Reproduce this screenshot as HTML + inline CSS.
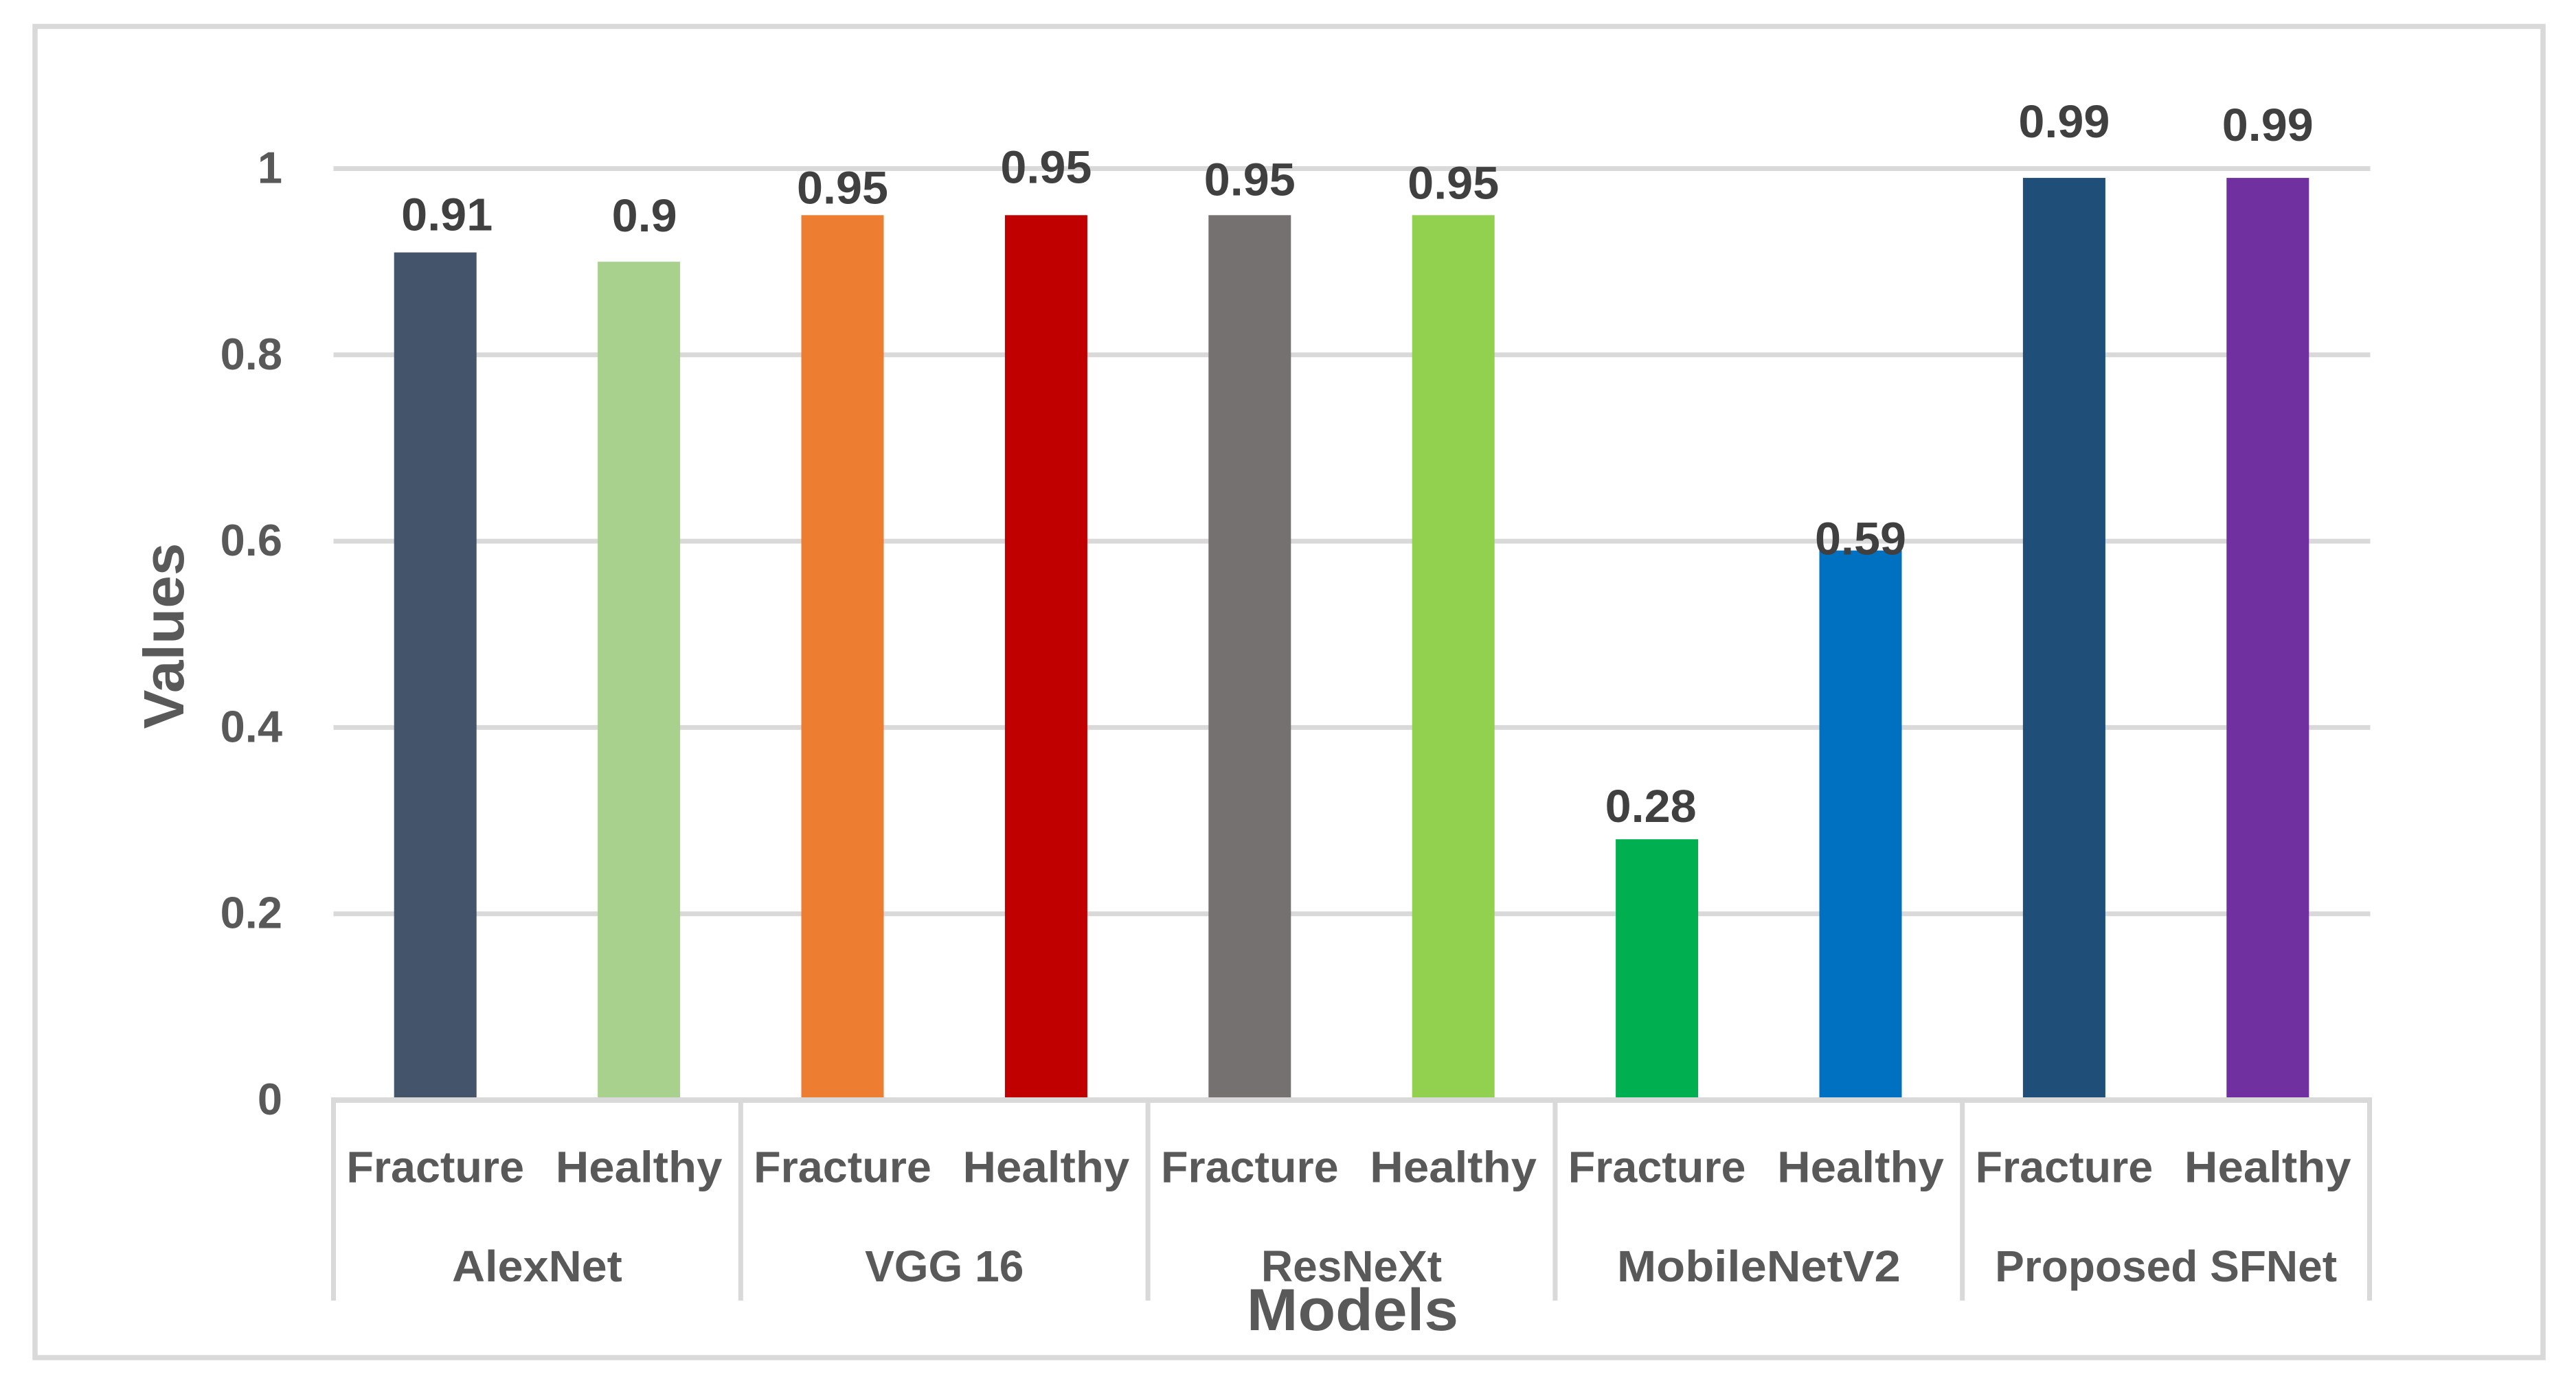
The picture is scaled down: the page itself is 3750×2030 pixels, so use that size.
<!DOCTYPE html>
<html lang="en">
<head>
<meta charset="utf-8">
<title>Model values by class</title>
<style>
html,body{margin:0;padding:0;background:#fff;}
svg{display:block;}
text{font-family:"Liberation Sans",sans-serif;font-weight:700;}
.axis-label{font-size:64px;fill:#595959;}
.y-label{font-size:65px;fill:#595959;}
.value-label{font-size:67px;fill:#404040;}
.axis-title{font-size:86px;fill:#595959;}
</style>
</head>
<body>
<svg id="chart" xmlns="http://www.w3.org/2000/svg" width="3750" height="2030" viewBox="0 0 3750 2030">
  <rect x="0" y="0" width="3750" height="2030" fill="#ffffff"/>
  <rect x="51" y="38.5" width="3651" height="1938.5" fill="#ffffff" stroke="#d9d9d9" stroke-width="7.5"/>
  <g id="grid"></g>
  <g id="bars"></g>
  <g id="xaxis"></g>
  <g id="yaxis"></g>
  <g id="values"></g>
  <text id="ytitle" class="axis-title" text-anchor="middle" transform="translate(267,926) rotate(-90)" style="font-size:83px">Values</text>
  <text id="xtitle" class="axis-title" text-anchor="middle" x="1969" y="1937">Models</text>
</svg>
<script>
const models = ["AlexNet", "VGG 16", "ResNeXt", "MobileNetV2", "Proposed SFNet"];
const classes = ["Fracture", "Healthy"];
const fractureValues = [0.91, 0.95, 0.95, 0.28, 0.99];
const healthyValues = [0.9, 0.95, 0.95, 0.59, 0.99];
const yTickLabels = ["0", "0.2", "0.4", "0.6", "0.8", "1"];
const barColors = ["#44546a", "#a9d18e", "#ed7d31", "#c00000", "#767171", "#92d050", "#00b050", "#0070c0", "#1f4e79", "#7030a0"];
const labelNudgeX = [17, 8, 0, 0, 0, 0, -9, 0, 0, 0];
const labelNudgeY = [-32, -44, -17, -47, -29, -24, -25, 6, -59, -54];

const NS = "http://www.w3.org/2000/svg";
const plotLeft = 485.5, plotRight = 3449.5, yZero = 1602, yOne = 245.5;
const barWidth = 120, tickEnd = 1894;
const catCount = models.length * classes.length;
const catStep = (plotRight - plotLeft) / catCount;
const yScale = function (v) { return yZero - v * (yZero - yOne); };
const xCat = function (i) { return plotLeft + catStep * (i + 0.5); };

function svgEl(tag, parentId, attrs, content) {
  const el = document.createElementNS(NS, tag);
  for (const k in attrs) el.setAttribute(k, attrs[k]);
  if (content !== undefined) el.textContent = content;
  document.getElementById(parentId).appendChild(el);
  return el;
}
/* Liberation is wider or narrower than the original face on some words */
function stretch(el, factor) {
  el.setAttribute("textLength", el.getComputedTextLength() * factor);
  el.setAttribute("lengthAdjust", "spacingAndGlyphs");
}
const wordStretch = function (word) {
  if (word === "Healthy") return 1.05;
  if (word === "AlexNet") return 1.04;
  if (word === "MobileNetV2") return 1.075;
  return 1;
};

yTickLabels.forEach(function (label) {
  const v = Number(label);
  const y = yScale(v);
  if (v !== 0) {
    const line = svgEl("line", "grid", { x1: plotLeft, x2: plotRight + 1, y1: y, y2: y, stroke: "#d9d9d9", "stroke-width": 7 });
    
    
  }
  const t = svgEl("text", "yaxis", { class: "y-label", x: 411, y: y + 21, "text-anchor": "end" }, label);
  
  
});

const baseline = svgEl("line", "xaxis", { x1: plotLeft - 3.5, x2: plotRight + 3.5, y1: yZero, y2: yZero, stroke: "#d9d9d9", "stroke-width": 8 });



for (let g = 0; g <= models.length; g++) {
  const x = plotLeft + g * classes.length * catStep;
  const tick = svgEl("line", "xaxis", { x1: x, x2: x, y1: yZero, y2: tickEnd, stroke: "#d9d9d9", "stroke-width": 7 });
  
  
}

models.forEach(function (model, m) {
  const groupCenter = plotLeft + (m + 0.5) * classes.length * catStep;
  const gl = svgEl("text", "xaxis", { class: "axis-label", x: groupCenter, y: 1866, "text-anchor": "middle" }, model);
  
  
  stretch(gl, wordStretch(model));

  [fractureValues[m], healthyValues[m]].forEach(function (value, c) {
    const i = m * classes.length + c;
    const x = xCat(i);
    const top = yScale(value);
    const bar = svgEl("rect", "bars", { x: x - barWidth / 2, y: top, width: barWidth, height: yZero - 4 - top, fill: barColors[i] });
    
    

    const cl = svgEl("text", "xaxis", { class: "axis-label", x: x, y: 1721.5, "text-anchor": "middle" }, classes[c]);
    
    
    stretch(cl, wordStretch(classes[c]) * (c === 0 ? 1.01 : 1));

    const vl = svgEl("text", "values", { class: "value-label", x: x + labelNudgeX[i], y: top + labelNudgeY[i], "text-anchor": "middle" }, String(value));
    
    
    stretch(vl, 1.02);
  });
});
stretch(document.getElementById("xtitle"), 1.04);
stretch(document.getElementById("ytitle"), 1.03);
</script>
</body>
</html>
